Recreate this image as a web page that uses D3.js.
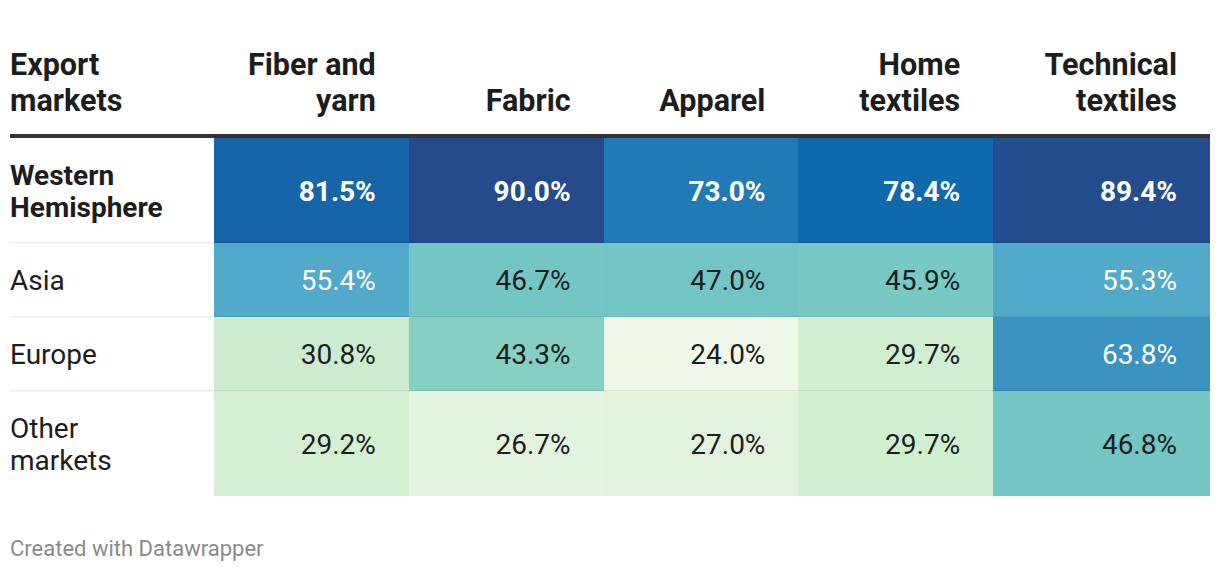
<!DOCTYPE html>
<html>
<head>
<meta charset="utf-8">
<script src="https://cdn.jsdelivr.net/npm/d3@7"></script>
<style>
  html, body { margin: 0; padding: 0; background: #fff; }
  svg { display: block; font-family: Roboto, "Noto Sans", sans-serif; }
</style>
</head>
<body>
<svg id="chart" width="1220" height="572"></svg>
<script>
// ---- data ----
const firstHeader = ["Export", "markets"];
const categories = ["Fiber and yarn", "Fabric", "Apparel", "Home textiles", "Technical textiles"];
const categoryLines = [["Fiber and", "yarn"], ["Fabric"], ["Apparel"], ["Home", "textiles"], ["Technical", "textiles"]];
const markets = ["Western Hemisphere", "Asia", "Europe", "Other markets"];
const marketLines = [["Western", "Hemisphere"], ["Asia"], ["Europe"], ["Other", "markets"]];
const westernHemisphere = [81.5, 90.0, 73.0, 78.4, 89.4];
const asia = [55.4, 46.7, 47.0, 45.9, 55.3];
const europe = [30.8, 43.3, 24.0, 29.7, 63.8];
const otherMarkets = [29.2, 26.7, 27.0, 29.7, 46.8];
const values = [westernHemisphere, asia, europe, otherMarkets];
const colorStops = [24, 27, 30, 43, 47, 55, 64, 73, 78, 82, 90];
const colorRange = ["#f0f9e9", "#e1f3dd", "#d0edd0", "#87d0c3", "#72c5c4", "#52abc9", "#3a92c2", "#1f7ab5", "#0e6bae", "#1764a8", "#254b8c"];
const footer = "Created with Datawrapper";

// ---- layout ----
const svg = d3.select("#chart");
const left = 10, right = 1210, cellStart = 214, lastExtra = 22;
const ruleY = 134, ruleH = 4;
const fsHead = 30.5, fsBody = 28;

const x = d3.scaleBand().domain(categories).range([cellStart, right - lastExtra]).padding(0);
const color = d3.scaleLinear().domain(colorStops).range(colorRange).interpolate(d3.interpolateRgb).clamp(true);
const cellW = (c, i) => x.bandwidth() + (i === categories.length - 1 ? lastExtra : 0);
const textX = (c, i) => x(c) + cellW(c, i) - 33;

// row heights derived from number of label lines
const rowH = marketLines.map(l => l.length > 1 ? 105 : 74);
const rowY = [];
let yy = ruleY + ruleH;
rowH.forEach(h => { rowY.push(yy); yy += h; });
const y = d3.scaleOrdinal().domain(markets).range(rowY);

// header
const headBase = 74.5, headLH = 36;
svg.append("text").attr("x", left).attr("y", headBase)
  .attr("font-size", fsHead).attr("font-weight", 700).attr("fill", "#1d1d1d")
  .selectAll("tspan").data(firstHeader).join("tspan")
  .attr("x", left).attr("dy", (d, i) => i === 0 ? 0 : headLH).text(d => d);

categories.forEach((c, i) => {
  const lines = categoryLines[i];
  const base = headBase + (2 - lines.length) * headLH;
  svg.append("text").attr("y", base).attr("text-anchor", "end")
    .attr("font-size", fsHead).attr("font-weight", 700).attr("fill", "#1d1d1d")
    .selectAll("tspan").data(lines).join("tspan")
    .attr("x", textX(c, i)).attr("dy", (d, k) => k === 0 ? 0 : headLH).text(d => d);
});

svg.append("rect").attr("x", left).attr("y", ruleY).attr("width", right - left).attr("height", ruleH).attr("fill", "#333");

// rows
const rowLH = 32;
markets.forEach((m, r) => {
  const top = y(m), h = rowH[r], mid = top + h / 2;
  const bold = r === 0;
  const g = svg.append("g");
  g.selectAll("rect").data(categories).join("rect")
    .attr("x", c => x(c)).attr("y", top)
    .attr("width", (c, i) => cellW(c, i)).attr("height", h)
    .attr("shape-rendering", "crispEdges")
    .attr("fill", (c, i) => color(values[r][i]));
  g.selectAll("text.v").data(categories).join("text").attr("class", "v")
    .attr("x", (c, i) => textX(c, i)).attr("y", mid + fsBody * 0.36)
    .attr("text-anchor", "end").attr("font-size", fsBody)
    .attr("font-weight", bold ? 700 : 400)
    .attr("fill", (c, i) => values[r][i] >= 55 ? "#ffffff" : "#1d1d1d")
    .text((c, i) => d3.format(".1f")(values[r][i]) + "%");
  const lines = marketLines[r];
  const first = mid - (lines.length - 1) * rowLH / 2 + fsBody * 0.36;
  g.append("text").attr("y", first).attr("font-size", fsBody)
    .attr("font-weight", bold ? 700 : 400).attr("fill", "#1d1d1d")
    .selectAll("tspan").data(lines).join("tspan")
    .attr("x", left).attr("dy", (d, k) => k === 0 ? 0 : rowLH).text(d => d);
  if (r < markets.length - 1) {
    svg.append("rect").attr("x", left).attr("y", top + h - 1).attr("width", right - left).attr("height", 1.5)
      .attr("fill", "rgba(0,0,0,0.07)");
  }
});

// footer
svg.append("text").attr("x", left).attr("y", 556).attr("font-size", 22).attr("fill", "#8a8a8a").text(footer);
</script>
</body>
</html>
